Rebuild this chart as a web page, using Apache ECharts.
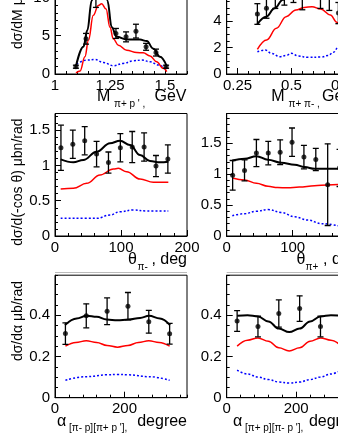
<!DOCTYPE html>
<html><head><meta charset="utf-8">
<script src="https://cdn.jsdelivr.net/npm/echarts@6/dist/echarts.min.js"></script>
<style>html,body{margin:0;padding:0;background:#fff}#c{width:338px;height:437px}</style>
</head><body><div id="c"></div>
<script>
// ---------- Panel 1: M(pi+ p') ----------
const p1PtX = [1.095,1.141,1.186,1.232,1.277,1.323,1.368,1.414,1.459,1.505];
const p1PtY = [0.95,4.6,11.0,12.5,5.3,4.85,5.6,3.55,2.8,0.95];
const p1PtE = [0.2,0.7,2.3,2.0,0.65,0.65,0.9,0.45,0.45,0.2];
const p1BlackX = [1.0955,1.129,1.147,1.167,1.19,1.21,1.23,1.238,1.258,1.28,1.326,1.386,1.417,1.447,1.477,1.508];
const p1BlackY = [1.04,3.55,5.7,9.6,12.5,13.3,11.5,9.6,6.1,4.85,4.5,4.5,4.3,3.3,2.25,1.04];
const p1RedX = [1.0955,1.114,1.136,1.152,1.174,1.197,1.212,1.232,1.25,1.265,1.288,1.326,1.371,1.401,1.432,1.462,1.492,1.508];
const p1RedY = [0.15,0.4,2.25,4.4,7.66,8.96,9.18,8.5,6.1,4.6,3.77,3.1,2.8,2.77,2.34,1.6,0.74,0.3];
const p1BlueX = [1.098,1.144,1.182,1.22,1.265,1.31,1.356,1.394,1.432,1.47,1.508];
const p1BlueY = [1.3,1.82,1.9,1.5,1.08,1.38,1.73,1.82,1.6,1.17,0.52];
// ---------- Panel 2: M(pi+ pi-) ----------
const p2PtX = [0.342,0.384,0.425,0.467,0.509,0.55,0.592,0.634,0.675,0.717,0.759];
const p2PtY = [4.53,4.96,5.9,6.2,6.3,5.9,6.6,5.9,5.8,4.6,4.0];
const p2PtE = [0.78,0.75,0.95,1.0,0.9,1.05,0.9,0.95,1.0,0.8,0.8];
const p2BlackX = [0.342,0.383,0.422,0.46,0.5,0.55,0.6,0.65,0.7,0.75,0.8];
const p2BlackY = [3.77,4.33,4.96,5.6,6.1,6.4,6.5,6.3,5.9,5.3,4.6];
const p2RedX = [0.342,0.385,0.43,0.475,0.52,0.56,0.595,0.635,0.68,0.71,0.75,0.8];
const p2RedY = [1.86,2.57,3.45,4.33,4.83,5.03,5.08,4.9,4.45,3.9,3.1,2.2];
const p2BlueX = [0.342,0.379,0.407,0.445,0.475,0.5,0.53,0.577,0.638,0.67,0.695,0.715,0.75,0.8];
const p2BlueY = [1.68,1.81,1.56,1.31,1.4,1.56,1.36,1.26,1.28,1.4,1.65,2.0,2.6,3.3];
// ---------- Panel 3: theta pi- ----------
const p3PtX = [9,27,45,63,81,99,117,135,153,171];
const p3PtY = [1.25,1.30,1.35,1.16,1.04,1.25,1.26,1.26,0.99,1.09];
const p3PtE = [0.32,0.2,0.2,0.18,0.15,0.2,0.22,0.2,0.15,0.2];
const p3BlackX = [8.6,27.8,42.9,63,83.3,98.5,113.6,128.8,143.9,159,171.7];
const p3BlackY = [1.086,1.044,1.076,1.194,1.313,1.35,1.289,1.147,1.062,1.044,1.052];
const p3RedX = [8.6,27.8,48,68.2,88.4,96,108.6,128.8,149,171.7];
const p3RedY = [0.666,0.675,0.746,0.864,0.949,0.958,0.911,0.807,0.76,0.76];
const p3BlueX = [8.6,63,83.3,98.5,118.7,139,171.7];
const p3BlueY = [0.25,0.25,0.297,0.344,0.368,0.354,0.354];
// ---------- Panel 4: theta pi+ ----------
const p4PtX = [9,27,45,63,81,99,117,135,153,171];
const p4PtY = [0.98,1.06,1.34,1.34,1.355,1.516,1.275,1.237,0.83,1.1];
const p4PtE = [0.24,0.17,0.22,0.19,0.2,0.23,0.19,0.18,0.66,0.3];
const p4BlackX = [8.5,27.2,45,62.6,82.8,103,118.2,133.3,153.5,171];
const p4BlackY = [1.221,1.248,1.291,1.232,1.184,1.152,1.114,1.087,1.087,1.087];
const p4RedX = [8.5,27.2,45,62.6,77,92,110,133,153.5,171];
const p4RedY = [0.937,0.905,0.852,0.803,0.783,0.779,0.79,0.812,0.826,0.836];
const p4BlueX = [8.5,27.2,45,62.6,82.8,103,123.2,143.4,168.7];
const p4BlueY = [0.327,0.36,0.40,0.428,0.38,0.31,0.257,0.2,0.166];
// ---------- Panel 5: alpha [pi- p][pi+ p'] ----------
const p5PtX = [30,90,150,210,270,330];
const p5PtY = [0.311,0.397,0.419,0.444,0.368,0.31];
const p5PtE = [0.052,0.058,0.065,0.066,0.055,0.05];
const p5BlackX = [28.8,62.4,91.2,120,148.7,180,211,245,270.6,302,331];
const p5BlackY = [0.352,0.384,0.397,0.392,0.379,0.375,0.379,0.387,0.397,0.384,0.352];
const p5RedX = [30,60,90,120,150,180,210,240,270,300,330];
const p5RedY = [0.25,0.268,0.276,0.268,0.253,0.245,0.253,0.268,0.276,0.268,0.25];
const p5BlueX = [30,90,150,180,210,270,330];
const p5BlueY = [0.085,0.102,0.111,0.113,0.111,0.102,0.085];
// ---------- Panel 6: alpha [pi+ p][pi- p'] ----------
const p6PtX = [30,90,150,210,270,330];
const p6PtY = [0.372,0.345,0.408,0.432,0.345,0.37];
const p6PtE = [0.05,0.05,0.066,0.062,0.05,0.05];
const p6BlackX = [30,60,90,120,150,180,210,240,270,300,330];
const p6BlackY = [0.397,0.40,0.394,0.37,0.335,0.318,0.335,0.37,0.394,0.40,0.397];
const p6RedX = [30,60,90,120,150,180,210,240,270,300,330];
const p6RedY = [0.25,0.279,0.29,0.274,0.242,0.227,0.242,0.274,0.29,0.279,0.25];
const p6BlueX = [30,60,90,120,150,180,210,240,270,300,330];
const p6BlueY = [0.134,0.115,0.1,0.088,0.076,0.071,0.076,0.088,0.1,0.115,0.134];

// ---------- tick definitions ----------
const p1XTicks = [1,1.25,1.5], p1YTicks = [0,5,10,15];
const p2XTicks = [0.25,0.5,0.75], p2YTicks = [0,2,4,6,8];
const p3XTicks = [0,100,200], p3YTicks = [0,0.5,1,1.5];
const p4XTicks = [0,100,200], p4YTicks = [0,0.5,1,1.5];
const p5XTicks = [0,200], p5YTicks = [0,0.2,0.4];
const p6XTicks = [0,200], p6YTicks = [0,0.2,0.4];

const FONT = 'Liberation Sans, Arial, Helvetica, sans-serif';
const panels = [
  {g:{left:55,top:-48.5}, x:[1.0,1.6,0.05,p1XTicks], y:[0,16,1,p1YTicks],
   pts:[p1PtX,p1PtY,p1PtE], black:[p1BlackX,p1BlackY], red:[p1RedX,p1RedY], blue:[p1BlueX,p1BlueY]},
  {g:{left:226.7,top:-48.5}, x:[0.2,0.811,0.05,p2XTicks], y:[0,9.25,0.5,p2YTicks],
   pts:[p2PtX,p2PtY,p2PtE], black:[p2BlackX,p2BlackY], red:[p2RedX,p2RedY], blue:[p2BlueX,p2BlueY]},
  {g:{left:55,top:113.5}, x:[0,200,20,p3XTicks], y:[0,1.735,0.1,p3YTicks],
   pts:[p3PtX,p3PtY,p3PtE], black:[p3BlackX,p3BlackY], red:[p3RedX,p3RedY], blue:[p3BlueX,p3BlueY]},
  {g:{left:226.7,top:113.5}, x:[0,200,20,p4XTicks], y:[0,1.98,0.1,p4YTicks],
   pts:[p4PtX,p4PtY,p4PtE], black:[p4BlackX,p4BlackY], red:[p4RedX,p4RedY], blue:[p4BlueX,p4BlueY]},
  {g:{left:55,top:275.2}, x:[0,380,40,p5XTicks], y:[0,0.594,0.05,p5YTicks],
   pts:[p5PtX,p5PtY,p5PtE], black:[p5BlackX,p5BlackY], red:[p5RedX,p5RedY], blue:[p5BlueX,p5BlueY]},
  {g:{left:226.7,top:275.2}, x:[0,380,40,p6XTicks], y:[0,0.594,0.05,p6YTicks],
   pts:[p6PtX,p6PtY,p6PtE], black:[p6BlackX,p6BlackY], red:[p6RedX,p6RedY], blue:[p6BlueX,p6BlueY]}
];

const zip = (a,b) => a.map((v,i)=>[v,b[i]]);
const grid=[], xAxis=[], yAxis=[], series=[];
panels.forEach((p,i)=>{
  grid.push({left:p.g.left, top:p.g.top, width:132, height:122.5, show:true,
    borderColor:'#000', borderWidth:1, backgroundColor:'transparent', outerBoundsMode:'none', containLabel:false});
  const mk = (dim, spec) => {
    const [mn,mx,minor,majors] = spec;
    const pos = dim==='x' ? 'bottom' : 'left';
    return [
      {type:'value', gridIndex:i, position:pos, min:mn, max:mx, interval:minor,
       axisLine:{show:true, onZero:false, lineStyle:{color:'#000',width:1}},
       axisTick:{show:true, inside:true, length:3, lineStyle:{color:'#000',width:1}},
       axisLabel:{show:false}, splitLine:{show:false}},
      {type:'value', gridIndex:i, position:pos, min:mn, max:mx,
       axisLine:{show:false, onZero:false},
       axisTick:{show:true, inside:true, length:6, customValues:majors, lineStyle:{color:'#000',width:1}},
       axisLabel:{show:true, customValues:majors, formatter:(v)=>String(+v.toFixed(4)),
         color:'#000', fontSize:15, fontFamily:FONT, margin: dim==='x'?4:5,
         showMinLabel:true, showMaxLabel:true},
       splitLine:{show:false}}
    ];
  };
  xAxis.push(...mk('x',p.x));
  yAxis.push(...mk('y',p.y));
  const xi = 2*i+1, yi = 2*i+1;
  series.push({type:'line', xAxisIndex:xi, yAxisIndex:yi, data:zip(p.blue[0],p.blue[1]),
    smooth:0.4, smoothMonotone:'x', showSymbol:false, clip:true,
    lineStyle:{color:'#0000ff', width:1.5, type:[2,2]}, z:2});
  series.push({type:'line', xAxisIndex:xi, yAxisIndex:yi, data:zip(p.red[0],p.red[1]),
    smooth:0.4, smoothMonotone:'x', showSymbol:false, clip:true,
    lineStyle:{color:'#ff0000', width:1.5}, z:3});
  series.push({type:'line', xAxisIndex:xi, yAxisIndex:yi, data:zip(p.black[0],p.black[1]),
    smooth:0.4, smoothMonotone:'x', showSymbol:false, clip:true,
    lineStyle:{color:'#000', width:2}, z:4});
  series.push({type:'custom', xAxisIndex:xi, yAxisIndex:yi, clip:true, z:5,
    data:p.pts[0].map((v,k)=>[v,p.pts[1][k],p.pts[2][k]]),
    encode:{x:0,y:1},
    renderItem:(params, api)=>{
      const x=api.value(0), y=api.value(1), e=api.value(2);
      const t=api.coord([x,y+e]), b=api.coord([x,y-e]);
      const hw=3, st={stroke:'#000', lineWidth:1.3};
      return {type:'group', children:[
        {type:'line', shape:{x1:t[0],y1:t[1],x2:b[0],y2:b[1]}, style:st},
        {type:'line', shape:{x1:t[0]-hw,y1:t[1],x2:t[0]+hw,y2:t[1]}, style:st},
        {type:'line', shape:{x1:b[0]-hw,y1:b[1],x2:b[0]+hw,y2:b[1]}, style:st}
      ]};
    }});
  series.push({type:'scatter', xAxisIndex:xi, yAxisIndex:yi, clip:true, z:6,
    data:zip(p.pts[0],p.pts[1]), symbol:'circle', symbolSize:5, itemStyle:{color:'#000'}});
});

const T = (x,y,text,opt) => Object.assign({type:'text', x, y, z:100,
  style:Object.assign({text, fill:'#000', fontSize:16, fontFamily:FONT, align:'left', verticalAlign:'middle'}, opt||{})});
const S = {fontSize:10};
const graphic = [
  // x titles
  T(97,96.5,'M'), T(114,104.5,"π+ p ' ,",S), T(186.5,96.5,'GeV',{align:'right'}),
  T(271.3,96.5,'M'), T(288.5,104.5,'π+ π- ,',S), T(322,96.5,'GeV'),
  T(128,259.5,'θ'), T(137.5,267.5,'π-',S), T(187,259.5,', deg',{align:'right'}),
  T(296.5,259.5,'θ'), T(305.5,267.5,'π+',S), T(358.7,259.5,', deg',{align:'right'}),
  T(57,421.5,'α'), T(69,428,"[π- p][π+ p '],",S), T(187,421.5,'degree',{align:'right'}),
  T(233,421.5,'α'), T(245,428,"[π+ p][π- p '],",S), T(358.7,421.5,'degree',{align:'right'}),
  // y titles
  Object.assign(T(18,49,'dσ/dM μb/GeV',{fontSize:14, align:'left'}),{rotation:Math.PI/2}),
  Object.assign(T(18,118.5,'dσ/d(-cos θ) μbn/rad',{fontSize:14, align:'right'}),{rotation:Math.PI/2}),
  Object.assign(T(18,281,'dσ/dα μb/rad',{fontSize:14, align:'right'}),{rotation:Math.PI/2}),
  // faint pad separators
  {type:'line', z:1, shape:{x1:55,y1:272.5,x2:187,y2:272.5}, style:{stroke:'#bbbbbb', lineWidth:1}},
  {type:'line', z:1, shape:{x1:226.7,y1:272.5,x2:338,y2:272.5}, style:{stroke:'#bbbbbb', lineWidth:1}}
];

const chart = echarts.init(document.getElementById('c'), null, {renderer:'canvas'});
chart.setOption({animation:false, backgroundColor:'#fff', grid, xAxis, yAxis, series, graphic});
</script>
</body></html>
